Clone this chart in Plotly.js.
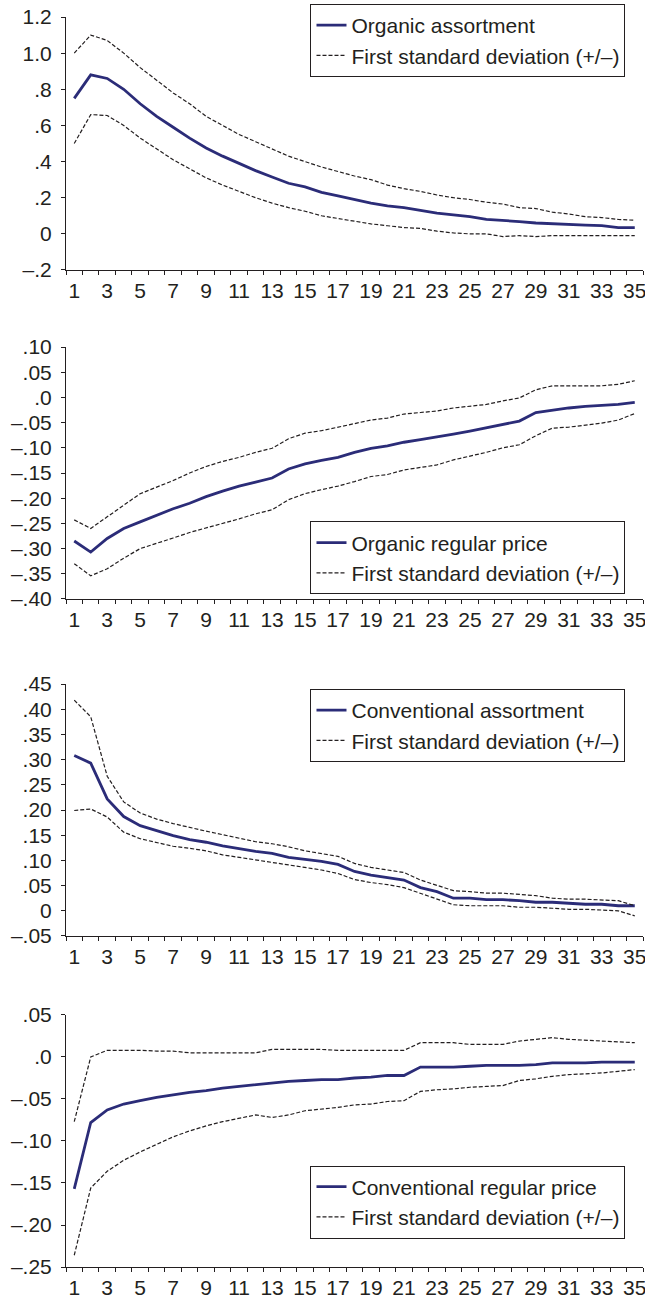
<!DOCTYPE html>
<html>
<head>
<meta charset="utf-8">
<script src="https://cdn.plot.ly/plotly-3.0.1.min.js"></script>
<style>html,body{margin:0;padding:0;background:#fff;}#chart{width:645px;height:1299px;}</style>
</head>
<body>
<div id="chart"></div>
<script>
// ---------- data ----------
const periods = Array.from({length: 35}, (_, i) => i + 1);
const xTickVals = [1,3,5,7,9,11,13,15,17,19,21,23,25,27,29,31,33,35];
const xTickText = xTickVals.map(String);

// Panel 1: Organic assortment
const orgAssort = [0.75,0.88,0.86,0.80,0.72,0.65,0.59,0.53,0.475,0.43,0.39,0.35,0.315,0.28,0.26,0.23,0.21,0.19,0.17,0.155,0.145,0.13,0.115,0.105,0.095,0.08,0.075,0.068,0.06,0.055,0.05,0.048,0.045,0.035,0.035];
const orgAssortUp = [1.00,1.10,1.07,1.00,0.92,0.85,0.78,0.72,0.65,0.60,0.55,0.51,0.47,0.43,0.40,0.37,0.345,0.32,0.30,0.27,0.25,0.235,0.215,0.20,0.19,0.175,0.165,0.145,0.14,0.12,0.11,0.095,0.09,0.08,0.075];
const orgAssortLo = [0.50,0.66,0.655,0.60,0.53,0.47,0.41,0.36,0.31,0.27,0.235,0.20,0.17,0.145,0.125,0.10,0.085,0.07,0.055,0.045,0.035,0.03,0.015,0.005,0,0,-0.015,-0.01,-0.015,-0.01,-0.01,-0.01,-0.01,-0.01,-0.01];
const y1TickVals = [1.2,1.0,0.8,0.6,0.4,0.2,0,-0.2];
const y1TickText = ["1.2","1.0",".8",".6",".4",".2","0","\u2013.2"];

// Panel 2: Organic regular price
const orgPrice = [-0.285,-0.307,-0.28,-0.26,-0.247,-0.234,-0.221,-0.21,-0.197,-0.186,-0.176,-0.168,-0.16,-0.142,-0.132,-0.125,-0.119,-0.109,-0.101,-0.096,-0.089,-0.084,-0.079,-0.073,-0.067,-0.06,-0.053,-0.047,-0.03,-0.025,-0.021,-0.018,-0.016,-0.014,-0.01];
const orgPriceUp = [-0.243,-0.26,-0.237,-0.214,-0.191,-0.178,-0.165,-0.15,-0.137,-0.127,-0.119,-0.109,-0.101,-0.082,-0.071,-0.066,-0.059,-0.051,-0.045,-0.041,-0.033,-0.03,-0.027,-0.021,-0.018,-0.014,-0.007,-0.001,0.015,0.023,0.023,0.023,0.023,0.026,0.033];
const orgPriceLo = [-0.33,-0.354,-0.34,-0.319,-0.30,-0.29,-0.279,-0.268,-0.259,-0.251,-0.241,-0.231,-0.223,-0.203,-0.191,-0.183,-0.176,-0.167,-0.157,-0.153,-0.144,-0.139,-0.134,-0.124,-0.117,-0.109,-0.10,-0.094,-0.076,-0.061,-0.059,-0.055,-0.051,-0.045,-0.032];
const y2TickVals = [0.10,0.05,0,-0.05,-0.10,-0.15,-0.20,-0.25,-0.30,-0.35,-0.40];
const y2TickText = [".10",".05",".0","\u2013.05","\u2013.10","\u2013.15","\u2013.20","\u2013.25","\u2013.30","\u2013.35","\u2013.40"];

// Panel 3: Conventional assortment
const convAssort = [0.308,0.293,0.222,0.187,0.169,0.159,0.149,0.141,0.136,0.129,0.123,0.118,0.114,0.106,0.102,0.098,0.092,0.078,0.071,0.066,0.061,0.046,0.038,0.025,0.025,0.022,0.022,0.02,0.017,0.017,0.015,0.013,0.013,0.01,0.01];
const convAssortUp = [0.418,0.385,0.267,0.216,0.194,0.182,0.173,0.165,0.158,0.151,0.144,0.137,0.133,0.127,0.119,0.114,0.108,0.094,0.086,0.081,0.076,0.061,0.05,0.04,0.038,0.035,0.035,0.032,0.03,0.025,0.023,0.023,0.022,0.02,0.01];
const convAssortLo = [0.199,0.202,0.186,0.156,0.143,0.136,0.128,0.124,0.119,0.111,0.106,0.101,0.095,0.09,0.085,0.081,0.074,0.062,0.056,0.052,0.046,0.035,0.023,0.012,0.01,0.01,0.01,0.007,0.007,0.005,0.003,0.003,0.001,0,-0.01];
const y3TickVals = [0.45,0.40,0.35,0.30,0.25,0.20,0.15,0.10,0.05,0,-0.05];
const y3TickText = [".45",".40",".35",".30",".25",".20",".15",".10",".05","0","\u2013.05"];

// Panel 4: Conventional regular price
const convPrice = [-0.157,-0.078,-0.063,-0.056,-0.052,-0.048,-0.045,-0.042,-0.04,-0.037,-0.035,-0.033,-0.031,-0.029,-0.028,-0.027,-0.027,-0.025,-0.024,-0.022,-0.022,-0.012,-0.012,-0.012,-0.011,-0.01,-0.01,-0.01,-0.009,-0.007,-0.007,-0.007,-0.006,-0.006,-0.006];
const convPriceUp = [-0.077,0,0.008,0.008,0.008,0.007,0.007,0.005,0.005,0.005,0.005,0.005,0.009,0.009,0.009,0.009,0.008,0.008,0.008,0.008,0.008,0.017,0.017,0.017,0.015,0.015,0.015,0.019,0.021,0.023,0.021,0.02,0.019,0.018,0.017];
const convPriceLo = [-0.236,-0.156,-0.136,-0.123,-0.113,-0.104,-0.095,-0.088,-0.082,-0.077,-0.073,-0.069,-0.072,-0.069,-0.064,-0.062,-0.06,-0.057,-0.056,-0.053,-0.052,-0.041,-0.039,-0.038,-0.036,-0.035,-0.034,-0.028,-0.026,-0.023,-0.021,-0.02,-0.019,-0.017,-0.015];
const y4TickVals = [0.05,0,-0.05,-0.10,-0.15,-0.20,-0.25];
const y4TickText = [".05",".0","\u2013.05","\u2013.10","\u2013.15","\u2013.20","\u2013.25"];

const names = ["Organic assortment","Organic regular price","Conventional assortment","Conventional regular price"];
const sdName = "First standard deviation (+/\u2013)";

// ---------- styling ----------
const FONT = "Liberation Sans, Arial, Helvetica, sans-serif";
const INK = "#231f20";
const NAVY = "#2b2c78";

const panels = [
  {mid: orgAssort, up: orgAssortUp, lo: orgAssortLo, tv: y1TickVals, tt: y1TickText, range: [-0.2, 1.2], dom: [0.79215, 0.98691], leg: 0.96882},
  {mid: orgPrice, up: orgPriceUp, lo: orgPriceLo, tv: y2TickVals, tt: y2TickText, range: [-0.40, 0.10], dom: [0.53888, 0.73287], leg: 0.57044},
  {mid: convAssort, up: convAssortUp, lo: convAssortLo, tv: y3TickVals, tt: y3TickText, range: [-0.05, 0.45], dom: [0.27945, 0.47344], leg: 0.44149},
  {mid: convPrice, up: convPriceUp, lo: convPriceLo, tv: y4TickVals, tt: y4TickText, range: [-0.25, 0.05], dom: [0.02463, 0.21863], leg: 0.07467}
];

const traces = [];
const layout = {
  width: 645, height: 1299,
  margin: {l: 66, r: 2, t: 0, b: 0},
  paper_bgcolor: "#fff", plot_bgcolor: "#fff",
  font: {family: FONT, color: INK, size: 21},
  showlegend: true
};

panels.forEach((p, i) => {
  const n = i + 1;
  const xa = n === 1 ? "x" : "x" + n;
  const ya = n === 1 ? "y" : "y" + n;
  const lg = n === 1 ? "legend" : "legend" + n;
  traces.push({x: periods, y: p.mid, xaxis: xa, yaxis: ya, legend: lg, name: names[i], mode: "lines",
    line: {color: NAVY, width: 2.8}, hoverinfo: "skip"});
  traces.push({x: periods, y: p.up, xaxis: xa, yaxis: ya, legend: lg, name: sdName, mode: "lines",
    line: {color: INK, width: 1.2, dash: "4px,2px"}, hoverinfo: "skip"});
  traces.push({x: periods, y: p.lo, xaxis: xa, yaxis: ya, legend: lg, name: sdName, mode: "lines", showlegend: false,
    line: {color: INK, width: 1.2, dash: "4px,2px"}, hoverinfo: "skip"});

  layout[n === 1 ? "xaxis" : "xaxis" + n] = {
    anchor: ya, domain: [0, 1], range: [0.5, 35.5],
    showgrid: false, zeroline: false, showline: true, linecolor: INK, linewidth: 1,
    tickmode: "array", tickvals: xTickVals, ticktext: xTickText,
    ticks: "outside", ticklen: 2, tickcolor: "rgba(0,0,0,0)",
    ticklabeloverflow: "allow",
    minor: {tick0: 0.5, dtick: 1, ticks: "outside", ticklen: 4, tickcolor: INK, tickwidth: 1, showgrid: false},
    tickfont: {family: FONT, size: 21, color: INK}, fixedrange: true
  };
  layout[n === 1 ? "yaxis" : "yaxis" + n] = {
    anchor: xa, domain: p.dom, range: p.range,
    showgrid: false, zeroline: false, showline: true, linecolor: INK, linewidth: 1,
    tickmode: "array", tickvals: p.tv, ticktext: p.tt,
    ticks: "outside", ticklen: 4, tickcolor: INK, ticklabelstandoff: 5,
    tickfont: {family: FONT, size: 21, color: INK}, fixedrange: true
  };
  layout[lg] = {
    x: 0.6967, xanchor: "center", y: p.leg, yanchor: "middle",
    xref: "paper", yref: "paper",
    bgcolor: "#fff", bordercolor: INK, borderwidth: 1,
    font: {family: FONT, size: 21, color: INK},
    tracegroupgap: 0, itemwidth: 30
  };
});

Plotly.newPlot("chart", traces, layout, {staticPlot: true, displayModeBar: false});
</script>
</body>
</html>
